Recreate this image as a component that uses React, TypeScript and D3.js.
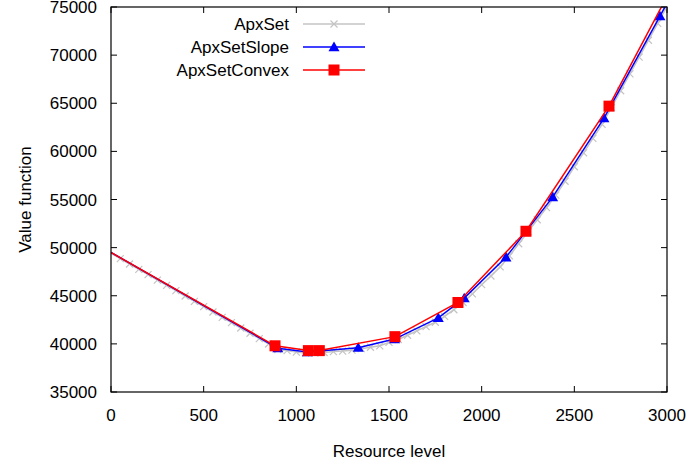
import { scaleLinear, line, range } from "d3";

// ApxSet: one value every 50 units of resource level, 0..3000
const apxSetX = range(0, 3001, 50);
const apxSetY = [
  49400, 48850, 48300, 47740, 47190, 46630, 46080, 45530, 44970, 44420,
  43870, 43310, 42760, 42210, 41650, 41100, 40550, 39990, 39400, 39300,
  39150, 39050, 39050, 39100, 39200, 39250, 39350, 39500, 39650, 39800,
  40150, 40450, 40900, 41350, 41800, 42250, 42850, 43550, 44300, 45200,
  46150, 47050, 48000, 49150, 50400, 51650, 52900, 54150, 55450, 56900,
  58400, 59850, 61350, 62800, 64550, 66300, 68050, 69800, 71550, 73300,
  75050,
];

const slopeX = [0, 900, 1060, 1334, 1530, 1766, 1906, 2131, 2383, 2660, 2962, 3000];
const slopeY = [49500, 39550, 39150, 39600, 40500, 42700, 44750, 49000, 55250, 63450, 74050, 75400];

const convexX = [0, 885, 1065, 1124, 1532, 1872, 2239, 2687, 3000];
const convexY = [49500, 39800, 39300, 39300, 40750, 44300, 51700, 64700, 76100];

const xTicks = [0, 500, 1000, 1500, 2000, 2500, 3000];
const yTicks = [35000, 40000, 45000, 50000, 55000, 60000, 65000, 70000, 75000];

const W = 686, H = 464;
const left = 111, right = 667, top = 7, bottom = 392;
const font = "'Liberation Sans', Arial, Helvetica, sans-serif";

type Pt = [number, number];

const x = scaleLinear().domain([0, 3000]).range([left, right]);
const y = scaleLinear().domain([35000, 75000]).range([bottom, top]);
const path = line<Pt>().x(d => x(d[0])).y(d => y(d[1]));

const zip = (xs: number[], ys: number[]): Pt[] => xs.map((v, i) => [v, ys[i]]);

function Cross({ cx, cy, color }: { cx: number; cy: number; color: string }) {
  const s = 3.5;
  return (
    <path d={`M${cx - s},${cy - s}L${cx + s},${cy + s}M${cx - s},${cy + s}L${cx + s},${cy - s}`}
      stroke={color} strokeWidth={1.2} fill="none" />
  );
}

function Tri({ cx, cy, color }: { cx: number; cy: number; color: string }) {
  const s = 5.5;
  return <path d={`M${cx},${cy - s}L${cx + s},${cy + s * 0.75}L${cx - s},${cy + s * 0.75}Z`} fill={color} />;
}

function Sq({ cx, cy, color }: { cx: number; cy: number; color: string }) {
  const s = 5.5;
  return <rect x={cx - s} y={cy - s} width={2 * s} height={2 * s} fill={color} />;
}

const series = [
  { name: "ApxSet", data: zip(apxSetX, apxSetY), color: "#c4c4c4", Marker: Cross },
  { name: "ApxSetSlope", data: zip(slopeX, slopeY), color: "#0000ff", Marker: Tri },
  { name: "ApxSetConvex", data: zip(convexX, convexY), color: "#ff0000", Marker: Sq },
];

export default function App() {
  return (
    <svg width={W} height={H} style={{ position: "absolute", left: 0, top: 0, background: "#fff" }}
      fontFamily={font}>
      <defs>
        <clipPath id="plot">
          <rect x={left} y={top} width={right - left} height={bottom - top} />
        </clipPath>
      </defs>
      {/* ticks, mirrored on all sides */}
      <g stroke="#000" strokeWidth={1}>
        {xTicks.map(t => (
          <g key={t}>
            <line x1={x(t)} x2={x(t)} y1={bottom} y2={bottom - 6} />
            <line x1={x(t)} x2={x(t)} y1={top} y2={top + 6} />
          </g>
        ))}
        {yTicks.map(t => (
          <g key={t}>
            <line x1={left} x2={left + 6} y1={y(t)} y2={y(t)} />
            <line x1={right} x2={right - 6} y1={y(t)} y2={y(t)} />
          </g>
        ))}
      </g>
      <g fontSize={17} fill="#000">
        {xTicks.map(t => (
          <text key={t} x={x(t)} y={bottom + 29} textAnchor="middle">{t}</text>
        ))}
        {yTicks.map(t => (
          <text key={t} x={left - 14} y={y(t) + 6} textAnchor="end">{t}</text>
        ))}
        <text x={(left + right) / 2} y={457} textAnchor="middle">Resource level</text>
        <text transform={`translate(31,${(top + bottom) / 2}) rotate(-90)`} textAnchor="middle">Value function</text>
      </g>
      <g clipPath="url(#plot)">
        {series.map(s => (
          <g key={s.name}>
            <path d={path(s.data) ?? ""} fill="none" stroke={s.color} strokeWidth={1.5} />
            {s.data.filter(d => d[0] > 0).map((d, i) => (
              <s.Marker key={i} cx={x(d[0])} cy={y(d[1])} color={s.color} />
            ))}
          </g>
        ))}
      </g>
      <rect x={left} y={top} width={right - left} height={bottom - top} fill="none" stroke="#000" strokeWidth={1.2} />
      {/* legend */}
      <g fontSize={17}>
        {series.map((s, i) => {
          const ly = 24 + i * 23;
          return (
            <g key={s.name}>
              <text x={289} y={ly + 6} textAnchor="end">{s.name}</text>
              <line x1={303} x2={365} y1={ly} y2={ly} stroke={s.color} strokeWidth={1.5} />
              <s.Marker cx={334} cy={ly} color={s.color} />
            </g>
          );
        })}
      </g>
    </svg>
  );
}
